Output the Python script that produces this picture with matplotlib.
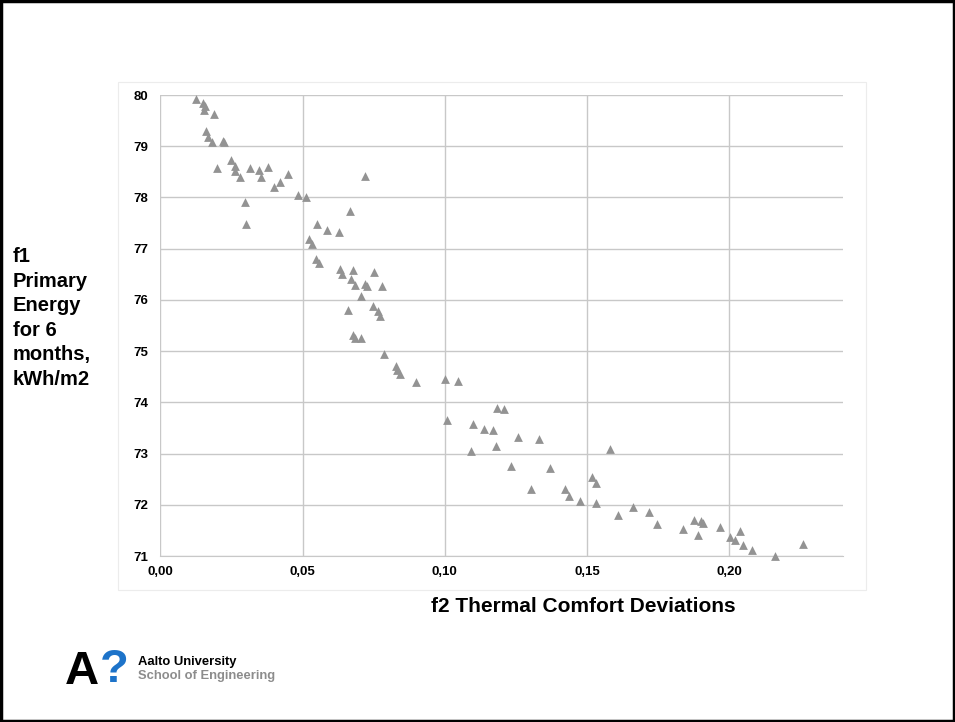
import matplotlib.pyplot as plt
from matplotlib.patches import Rectangle
from matplotlib.ticker import FuncFormatter, MultipleLocator

# f2 thermal comfort deviations (x) and f1 primary energy (y)
f2_deviation = [
    0.0124, 0.0149, 0.0157, 0.0152, 0.0187, 0.0159, 0.0166, 0.0180, 0.0219, 0.0223,
    0.0249, 0.0263, 0.0262, 0.0200, 0.0281, 0.0316, 0.0348, 0.0355, 0.0379, 0.0448,
    0.0420, 0.0398, 0.0484, 0.0512, 0.0720, 0.0297, 0.0301, 0.0666, 0.0550, 0.0584,
    0.0629, 0.0521, 0.0532, 0.0548, 0.0558, 0.0632, 0.0638, 0.0676, 0.0751, 0.0670,
    0.0685, 0.0718, 0.0728, 0.0780, 0.0705, 0.0660, 0.0748, 0.0766, 0.0771, 0.0676,
    0.0685, 0.0705, 0.0786, 0.0830, 0.0832, 0.0842, 0.0900, 0.1000, 0.1048, 0.1183,
    0.1208, 0.1007, 0.1098, 0.1139, 0.1169, 0.1179, 0.1092, 0.1257, 0.1331, 0.1580,
    0.1231, 0.1370, 0.1518, 0.1533, 0.1302, 0.1421, 0.1438, 0.1477, 0.1531, 0.1660,
    0.1609, 0.1719, 0.1746, 0.1836, 0.1875, 0.1902, 0.1909, 0.1890, 0.1969, 0.2002,
    0.2022, 0.2039, 0.2048, 0.2080, 0.2160, 0.2258,
]
f1_energy = [
    79.93, 79.84, 79.78, 79.71, 79.63, 79.29, 79.19, 79.08, 79.11, 79.08,
    78.74, 78.61, 78.51, 78.57, 78.39, 78.57, 78.54, 78.39, 78.60, 78.46,
    78.31, 78.20, 78.04, 78.00, 78.42, 77.92, 77.48, 77.74, 77.48, 77.37,
    77.32, 77.19, 77.10, 76.79, 76.73, 76.60, 76.50, 76.58, 76.55, 76.40,
    76.30, 76.32, 76.28, 76.28, 76.07, 75.81, 75.88, 75.79, 75.68, 75.31,
    75.25, 75.25, 74.94, 74.71, 74.63, 74.56, 74.39, 74.46, 74.41, 73.88,
    73.87, 73.66, 73.57, 73.48, 73.46, 73.14, 73.05, 73.33, 73.28, 73.09,
    72.76, 72.71, 72.55, 72.42, 72.30, 72.30, 72.17, 72.07, 72.04, 71.96,
    71.81, 71.85, 71.62, 71.53, 71.70, 71.69, 71.65, 71.41, 71.56, 71.37,
    71.32, 71.48, 71.21, 71.11, 71.00, 71.24,
]

fig = plt.figure(figsize=(9.55, 7.22), dpi=100)
fig.patch.set_facecolor("white")

# slide frame and faint chart-area border
fig.add_artist(Rectangle((0.001, 0.001), 0.998, 0.997, transform=fig.transFigure,
                         fill=False, edgecolor="black", linewidth=2.5))
fig.add_artist(Rectangle((118 / 955, 1 - 590 / 722), (866 - 118) / 955, (590 - 82) / 722,
                         transform=fig.transFigure, fill=False,
                         edgecolor="#ececec", linewidth=0.8))

ax = fig.add_axes([0.168, 0.2299, 0.7147, 0.6385])
ax.scatter(f2_deviation, f1_energy, marker="^", s=40, color="#939393",
           linewidths=0, zorder=3, clip_on=False)

ax.set_xlim(0, 0.24)
ax.set_ylim(71, 80)
ax.xaxis.set_major_locator(MultipleLocator(0.05))
ax.yaxis.set_major_locator(MultipleLocator(1))
ax.xaxis.set_major_formatter(FuncFormatter(lambda v, p: f"{v:.2f}".replace(".", ",")))
ax.yaxis.set_major_formatter(FuncFormatter(lambda v, p: f"{v:.0f}"))
ax.grid(True, color="#c8c8c8", linewidth=1.0)
ax.set_axisbelow(True)
for side in ["top", "right", "left"]:
    ax.spines[side].set_visible(False)
ax.spines["bottom"].set_color("#c8c8c8")
ax.tick_params(axis="x", length=0, pad=7)
ax.tick_params(axis="y", length=0, pad=9)
for lab in ax.get_xticklabels() + ax.get_yticklabels():
    lab.set_fontfamily("Liberation Sans")
    lab.set_fontweight("bold")
    lab.set_fontsize(9.5)

fig.text(583 / 955, 1 - 607 / 722, "f2 Thermal Comfort Deviations",
         ha="center", va="center", fontsize=15, fontweight="bold",
         family="Liberation Sans")
fig.text(13 / 955, 1 - 318 / 722, "f1\nPrimary\nEnergy\nfor 6\nmonths,\nkWh/m2",
         ha="left", va="center", fontsize=14.5, fontweight="bold",
         family="Liberation Sans", linespacing=1.37)

# logo
fig.text(65 / 955, 1 - 672 / 722, "A", fontsize=34, fontweight="bold",
         family="Liberation Sans", color="black", va="center", ha="left")
fig.text(100 / 955, 1 - 670 / 722, "?", fontsize=34, fontweight="bold",
         family="Liberation Sans", color="#1d73c9", va="center", ha="left")
fig.text(138 / 955, 1 - 662 / 722, "Aalto University", fontsize=9.4,
         fontweight="bold", family="Liberation Sans", color="black", va="center")
fig.text(138 / 955, 1 - 676 / 722, "School of Engineering", fontsize=9.4,
         fontweight="bold", family="Liberation Sans", color="#8c8c8c", va="center")

fig.savefig("out.png", dpi=100)
